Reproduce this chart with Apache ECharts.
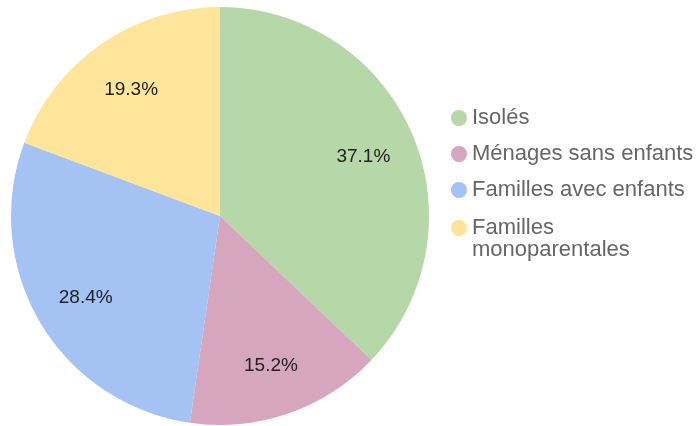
<!DOCTYPE html>
<html>
<head>
<meta charset="utf-8">
<script src="https://cdn.jsdelivr.net/npm/echarts@6/dist/echarts.min.js"></script>
<style>
  html, body { margin: 0; padding: 0; background: #fff; }
  #chart { width: 700px; height: 426px; }
</style>
</head>
<body>
<div id="chart"></div>
<script>
const categories = ["Isolés", "Ménages sans enfants", "Familles avec enfants", "Familles monoparentales"];
const shares = [37.1, 15.2, 28.4, 19.3];
const colors = ["#b6d7a8", "#d5a6bd", "#a4c2f4", "#ffe599"];

const data = categories.map((name, i) => ({ name, value: shares[i] }));
const font = "Liberation Sans, Arial, sans-serif";

const legendText = {
  fontFamily: font,
  fontSize: 22,
  color: "#666",
  lineHeight: 22
};
const legendBase = {
  orient: "vertical",
  left: 446,
  icon: "circle",
  itemWidth: 16,
  itemHeight: 16,
  itemGap: 14,
  textStyle: legendText
};

const chart = echarts.init(document.getElementById("chart"));
chart.setOption({
  animation: false,
  color: colors,
  legend: [
    Object.assign({}, legendBase, {
      top: 102,
      data: categories.slice(0, 3)
    }),
    // last entry wraps; a blank first line keeps the dot level with "Familles"
    Object.assign({}, legendBase, {
      top: 190,
      data: categories.slice(3),
      formatter: (name) => "\n" + name.replace(" ", "\n")
    })
  ],
  series: [
    {
      type: "pie",
      center: [220, 216],
      radius: [0, 209],
      startAngle: 90,
      clockwise: true,
      label: { show: false },
      labelLine: { show: false },
      emphasis: { disabled: true },
      data: data
    },
    {
      // transparent overlay only to place the percentage labels further out
      type: "pie",
      center: [220, 216],
      radius: [97, 209],
      startAngle: 90,
      clockwise: true,
      silent: true,
      itemStyle: { color: "transparent" },
      label: {
        show: true,
        position: "inside",
        formatter: (p) => p.value.toFixed(1) + "%",
        fontFamily: font,
        fontSize: 19,
        color: "#222",
        offset: [0, 2]
      },
      labelLine: { show: false },
      emphasis: { disabled: true },
      data: data
    }
  ]
});
</script>
</body>
</html>
